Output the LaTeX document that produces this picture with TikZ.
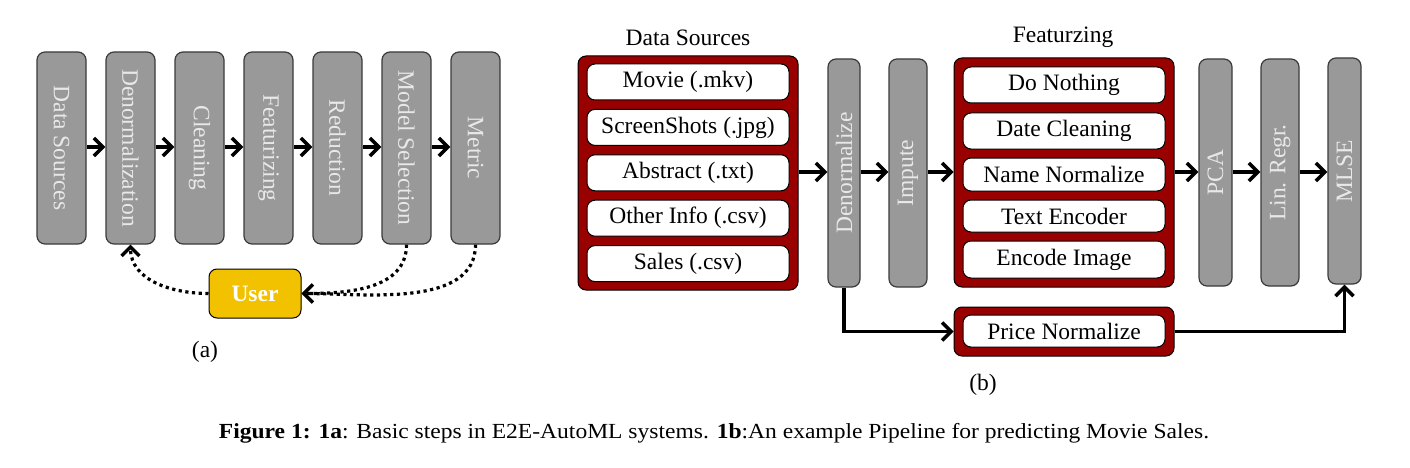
\documentclass[tikz,border=0pt]{standalone}
\usepackage{fontspec}
\setmainfont{Liberation Serif}
\usetikzlibrary{arrows.meta,calc}
\definecolor{boxgray}{HTML}{999999}
\definecolor{boxedge}{HTML}{3A3A3A}
\definecolor{boxtext}{HTML}{E8E8E8}
\definecolor{darkred}{HTML}{990000}
\definecolor{useryellow}{HTML}{F2C200}
\tikzset{
  graybox/.style={draw=boxedge, line width=1.2pt, fill=boxgray, rounded corners=8pt,
    text=boxtext, inner sep=0pt},
  redbox/.style={draw=black, line width=1pt, fill=darkred, rounded corners=8pt, inner sep=0pt},
  whitebox/.style={draw=black, line width=1pt, fill=white, rounded corners=8pt, inner sep=0pt,
    minimum width=202pt},
  flow/.style={line width=3.3pt, -{Straight Barb[length=9pt,width=18pt,line width=3.5pt]}},
  fb/.style={line width=3.2pt, dash pattern=on 3.2pt off 3.5pt,
    -{Straight Barb[length=9pt,width=18pt,line width=3.3pt]}},
  big/.style={font=\fontsize{23.5}{28}\selectfont},
}
\begin{document}
\begin{tikzpicture}[x=1pt,y=-1pt,big]
\useasboundingbox (0,0) rectangle (1410,468);
% ---------- (a)
\foreach \n/\t [count=\i from 0] in {a1/Data Sources,a2/Denormalization,a3/Cleaning,a4/Featurizing,a5/Reduction,a6/Model Selection,a7/Metric}{
  \node[graybox, minimum width=49pt, minimum height=192pt] (\n) at (61.5+69*\i,148) {};
  \node[text=boxtext, rotate=-90] at (\n.center) {\t};
}
\foreach \a/\b in {a1/a2,a2/a3,a3/a4,a4/a5,a5/a6,a6/a7}{
  \draw[flow] (\a.east|-0,147) -- (\b.west|-0,147);
}
\node[draw=black, line width=1pt, fill=useryellow, rounded corners=8pt, minimum width=92pt,
  minimum height=49pt, text=white, font=\fontsize{23.5}{28}\selectfont\bfseries] (user) at (255,293.5) {User};
\draw[fb] (user.west) to[out=180,in=-90] (a2.south);
\draw[fb] (a6.south) to[out=-90,in=0] (user.east);
\draw[fb] (a7.south) to[out=-90,in=0,looseness=0.9] (user.east);
\node (la) at (205,352) {(a)};
% ---------- (b)
\node (tds) at (688,38) {Data Sources};
\node[redbox, minimum width=220pt, minimum height=234pt] (ds) at (688,173) {};
\foreach \n/\t [count=\i from 0] in {d1/Movie (.mkv),d2/ScreenShots (.jpg),d3/Abstract (.txt),d4/Other Info (.csv),d5/Sales (.csv)}{
  \node[whitebox, minimum height=36pt] (\n) at (688,82+45.4*\i) {\t};
}
\node[graybox, minimum width=32pt, minimum height=228pt] (den) at (844,173) {};
\node[text=boxtext, rotate=90] at (den.center) {Denormalize};
\node[graybox, minimum width=38pt, minimum height=228pt] (imp) at (908,173) {};
\node[text=boxtext, rotate=90] at (imp.center) {Impute};
\node (tft) at (1063,37) {Featurzing};
\node[redbox, minimum width=220pt, minimum height=229pt] (ft) at (1064,172.5) {};
\node[whitebox, minimum height=36pt] (f1) at (1064,85) {Do Nothing};
\node[whitebox, minimum height=36pt] (f2) at (1064,131) {Date Cleaning};
\node[whitebox, minimum height=33pt] (f3) at (1064,174.5) {Name Normalize};
\node[whitebox, minimum height=32pt] (f4) at (1064,216) {Text Encoder};
\node[whitebox, minimum height=37pt] (f5) at (1064,259.5) {Encode Image};
\node[graybox, minimum width=33pt, minimum height=227pt] (pca) at (1215.5,172.5) {};
\node[text=boxtext, rotate=90] at (pca.center) {PCA};
\node[graybox, minimum width=38pt, minimum height=227pt] (lin) at (1280,172.5) {};
\node[text=boxtext, rotate=90] at (lin.center) {Lin. Regr.};
\node[graybox, minimum width=33pt, minimum height=226pt] (mlse) at (1344.5,171) {};
\node[text=boxtext, rotate=90] at (mlse.center) {MLSE};
\node[redbox, minimum width=220pt, minimum height=49pt] (pn) at (1064,331.5) {};
\node[whitebox, minimum height=32pt] (pni) at (1064,331) {Price Normalize};
\foreach \a/\b in {ds/den,den/imp,imp/ft,ft/pca,pca/lin,lin/mlse}{
  \draw[flow] (\a.east|-0,172) -- (\b.west|-0,172);
}
\draw[flow] (den.south) |- (pn.west);
\draw[flow] (pn.east) -| (mlse.south);
\node (lb) at (983,385) {(b)};
% ---------- caption
\node[font=\fontsize{21.5}{24}\selectfont, xscale=1.095] (cap) at (714,433) {\textbf{Figure 1:} \textbf{1a}: Basic steps in E2E-AutoML systems. \textbf{1b}:An example Pipeline for predicting Movie Sales.};
\end{tikzpicture}
\end{document}
